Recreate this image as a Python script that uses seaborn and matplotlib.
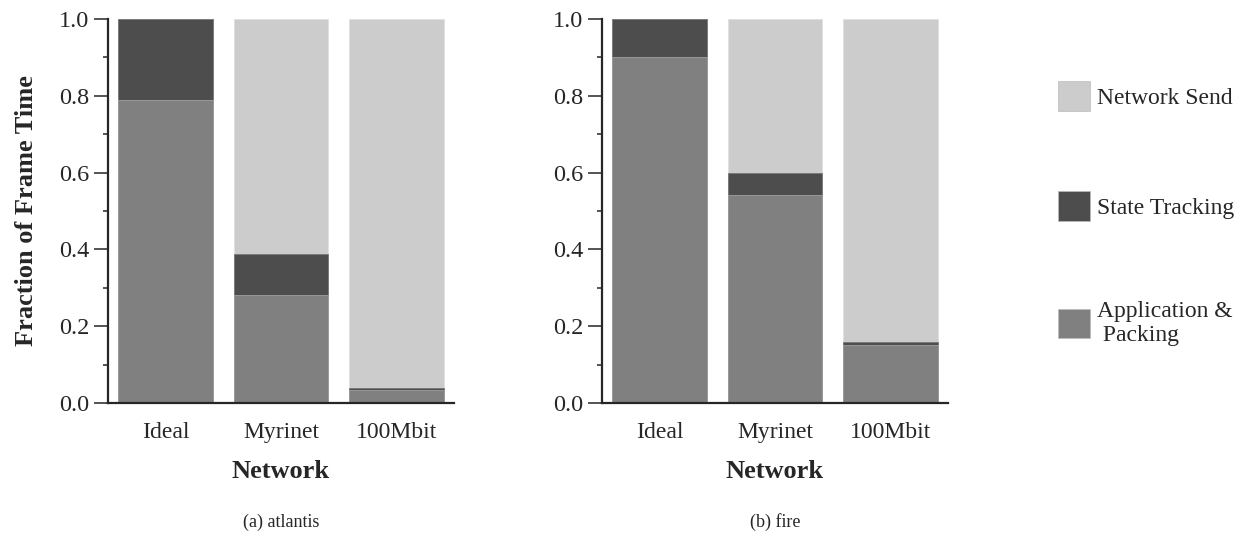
import numpy as np
import matplotlib
matplotlib.use('Agg')
import matplotlib.pyplot as plt
import seaborn as sns
from matplotlib.patches import Patch
from matplotlib.ticker import MultipleLocator

networks = ['Ideal', 'Myrinet', '100Mbit']

# fractions of frame time
atlantis_app = [0.790, 0.282, 0.034]
atlantis_state = [0.210, 0.106, 0.006]
atlantis_net = [0.000, 0.612, 0.960]

fire_app = [0.901, 0.542, 0.152]
fire_state = [0.099, 0.058, 0.008]
fire_net = [0.000, 0.400, 0.840]

captions = ['(a) atlantis', '(b) fire']
labels = ['Network Send', 'State Tracking', 'Application &\n Packing']
colors = ['#cccccc', '#4d4d4d', '#808080']

sns.set_style('ticks')
plt.rcParams['font.family'] = ['Liberation Serif', 'DejaVu Serif']

fig = plt.figure(figsize=(12.41, 5.35), dpi=100)
ax1 = fig.add_axes([0.087, 0.2467, 0.2788, 0.7178])
ax2 = fig.add_axes([0.4851, 0.2467, 0.2788, 0.7178])

for ax, app, state, net, cap in [(ax1, atlantis_app, atlantis_state, atlantis_net, captions[0]),
                                 (ax2, fire_app, fire_state, fire_net, captions[1])]:
    app = np.array(app)
    state = np.array(state)
    net = np.array(net)
    # stacked: draw the totals first, then cover with the lower parts
    sns.barplot(x=networks, y=app + state + net, color=colors[0], width=0.82,
                saturation=1, edgecolor='#e0e0e0', linewidth=0.6, ax=ax)
    sns.barplot(x=networks, y=app + state, color=colors[1], width=0.82,
                saturation=1, edgecolor='#777777', linewidth=0.6, ax=ax)
    sns.barplot(x=networks, y=app, color=colors[2], width=0.82,
                saturation=1, edgecolor='#a0a0a0', linewidth=0.6, ax=ax)
    ax.set_ylim(0, 1.0)
    ax.set_xlim(-0.5, 2.5)
    ax.yaxis.set_major_locator(MultipleLocator(0.2))
    ax.yaxis.set_minor_locator(MultipleLocator(0.1))
    ax.yaxis.set_major_formatter(plt.FormatStrFormatter('%.1f'))
    ax.tick_params(axis='y', which='major', length=10, width=1.1, labelsize=17.5, pad=3.5)
    ax.tick_params(axis='y', which='minor', length=3.8, width=1.1)
    ax.tick_params(axis='x', length=0, labelsize=17, pad=13.5)
    for s in ['left', 'bottom']:
        ax.spines[s].set_linewidth(1.6)
    sns.despine(ax=ax)
    ax.set_xlabel('Network', fontsize=19, fontweight='bold', labelpad=12.5)
    ax.set_ylabel('')
    ax.text(0.5, -0.31, cap, transform=ax.transAxes, ha='center', va='center', fontsize=13)

ax1.set_ylabel('Fraction of Frame Time', fontsize=19, fontweight='bold', labelpad=15)

handles = [Patch(facecolor=c, edgecolor='#bbbbbb', linewidth=0.5) for c in colors]
fig.legend(handles, labels, loc='upper left', bbox_to_anchor=(0.845, 0.866),
           frameon=False, fontsize=17, handlelength=1.35, handleheight=1.55,
           handletextpad=0.3, labelspacing=3.4, borderaxespad=0)

fig.savefig('out.png', dpi=100)
